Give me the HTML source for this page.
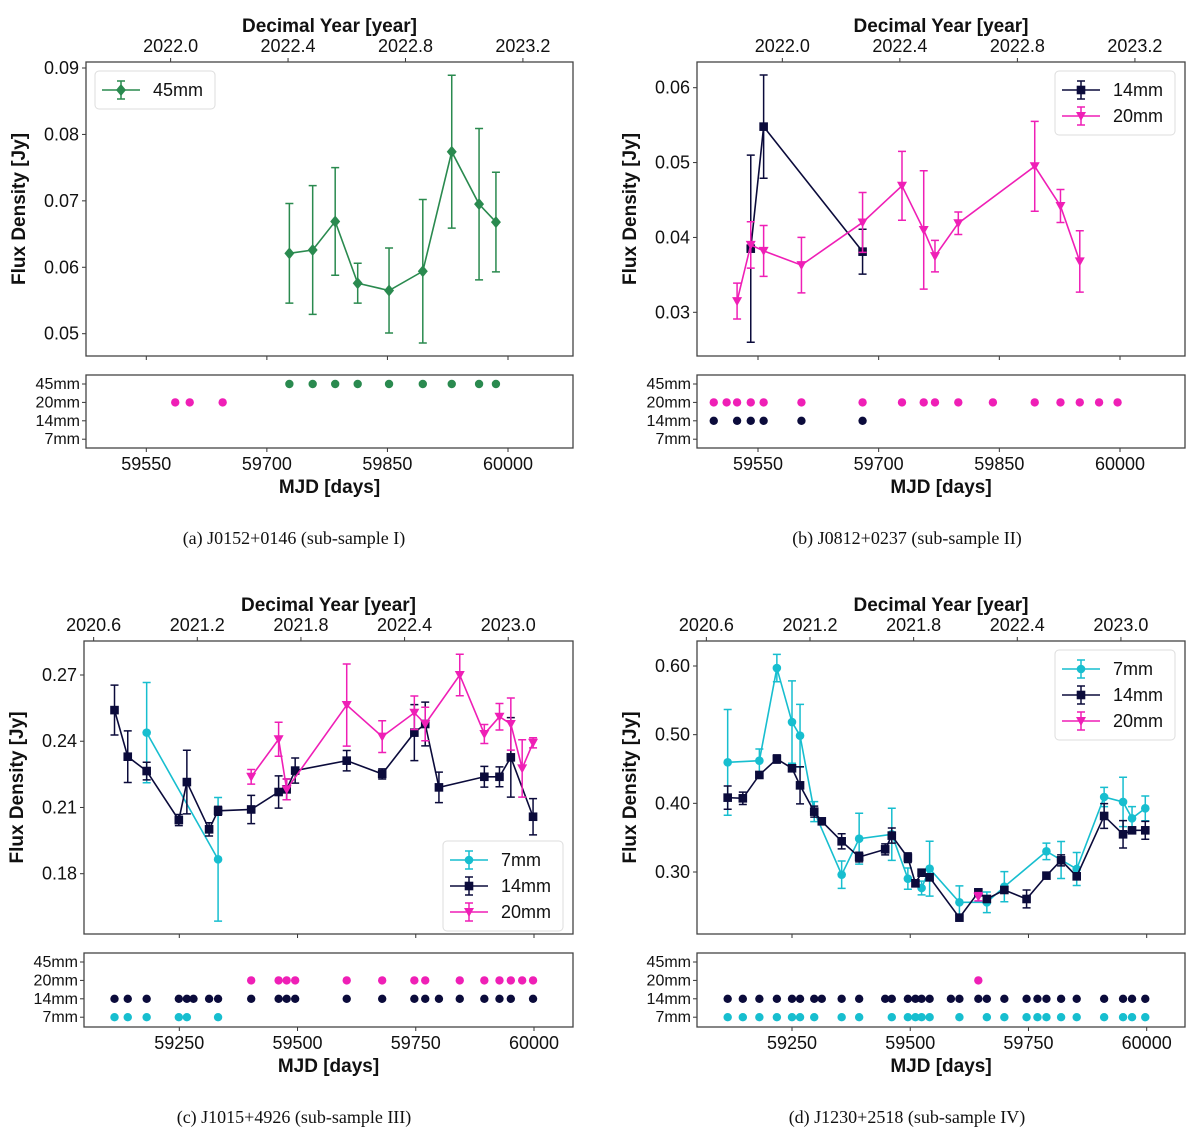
<!DOCTYPE html>
<html><head><meta charset="utf-8">
<style>
html,body{margin:0;padding:0;background:#fff;width:1200px;height:1133px;overflow:hidden}
svg{display:block;font-family:"Liberation Sans","DejaVu Sans",sans-serif}
.cap{font-family:"Liberation Serif",serif;font-size:18px;fill:#111}
</style></head>
<body>
<svg id="fig" width="1200" height="1133" viewBox="0 0 1200 1133" xmlns="http://www.w3.org/2000/svg">
<text class="cap" x="294" y="544" text-anchor="middle">(a) J0152+0146 (sub-sample I)</text>
<text class="cap" x="907" y="544" text-anchor="middle">(b) J0812+0237 (sub-sample II)</text>
<text class="cap" x="294" y="1123" text-anchor="middle">(c) J1015+4926 (sub-sample III)</text>
<text class="cap" x="907" y="1123" text-anchor="middle">(d) J1230+2518 (sub-sample IV)</text>
</svg>
<script>
// ---------- data ----------
// Panel A (J0152+0146)
const aMjd45 = [59728,59757,59785,59813,59852,59894,59930,59964,59985];
const aFlux45 = [0.0621,0.0626,0.0669,0.0576,0.0565,0.0594,0.0774,0.0695,0.0668];
const aErr45 = [0.0075,0.0097,0.0081,0.003,0.0064,0.0108,0.0115,0.0114,0.0075];
const aObs45 = [59728,59757,59785,59813,59852,59894,59930,59964,59985];
const aObs20 = [59586,59604,59645];
const aYTicks = [0.05,0.06,0.07,0.08,0.09];
// Panel B (J0812+0237)
const bMjd14 = [59541,59557,59680];
const bFlux14 = [0.0385,0.0548,0.0381];
const bErr14 = [0.0125,0.0069,0.003];
const bMjd20 = [59524,59541,59557,59604,59680,59729,59756,59770,59799,59894,59926,59950];
const bFlux20 = [0.0315,0.039,0.0382,0.0363,0.042,0.0469,0.041,0.0375,0.0419,0.0495,0.0442,0.0368];
const bErr20 = [0.0024,0.0031,0.0034,0.0037,0.004,0.0046,0.0079,0.0021,0.0015,0.006,0.0022,0.0041];
const bObs14 = [59495,59524,59541,59557,59604,59680];
const bObs20 = [59495,59511,59524,59541,59557,59604,59680,59729,59756,59770,59799,59842,59894,59926,59950,59974,59997];
const bYTicks = [0.03,0.04,0.05,0.06];
// Panel C (J1015+4926)
const cMjd7 = [59181,59332];
const cFlux7 = [0.2439,0.1865];
const cErr7 = [0.0227,0.028];
const cMjd14 = [59113,59141,59181,59249,59266,59313,59332,59402,59460,59477,59495,59604,59679,59747,59770,59799,59895,59927,59951,59998];
const cFlux14 = [0.2541,0.233,0.2265,0.2043,0.2215,0.2001,0.2085,0.2091,0.217,0.2182,0.2267,0.2312,0.2252,0.2439,0.2478,0.2191,0.2239,0.2239,0.2327,0.2058];
const cErr14 = [0.0113,0.0117,0.004,0.0025,0.0144,0.003,0.002,0.0064,0.0073,0.0047,0.0057,0.0046,0.0023,0.0127,0.0099,0.0069,0.0047,0.0045,0.018,0.0082];
const cMjd20 = [59402,59460,59477,59604,59679,59747,59770,59843,59895,59927,59951,59975,59998];
const cFlux20 = [0.2239,0.2409,0.2182,0.2564,0.2421,0.2529,0.2478,0.27,0.2433,0.2511,0.2478,0.2277,0.2393];
const cErr20 = [0.0033,0.0077,0.0047,0.0186,0.0072,0.0076,0.0076,0.0094,0.0043,0.006,0.0118,0.013,0.0023];
const cObs7 = [59113,59141,59181,59249,59266,59332];
const cObs14 = [59113,59141,59181,59249,59266,59280,59313,59332,59402,59460,59477,59495,59604,59679,59747,59770,59799,59843,59895,59927,59951,59998];
const cObs20 = [59402,59460,59477,59495,59604,59679,59747,59770,59843,59895,59927,59951,59975,59998];
const cYTicks = [0.18,0.21,0.24,0.27];
// Panel D (J1230+2518)
const dMjd7 = [59114,59181,59218,59250,59267,59297,59355,59392,59461,59495,59524,59541,59604,59662,59699,59788,59819,59852,59910,59950,59969,59997];
const dFlux7 = [0.4597,0.4621,0.597,0.5184,0.4985,0.3879,0.2961,0.3485,0.3549,0.2903,0.2767,0.3048,0.2558,0.2558,0.2786,0.3301,0.3175,0.3044,0.4092,0.402,0.3782,0.3927];
const dErr7 = [0.077,0.017,0.02,0.06,0.0456,0.0146,0.02,0.037,0.038,0.0155,0.01,0.04,0.024,0.015,0.022,0.012,0.027,0.024,0.014,0.036,0.017,0.018];
const dMjd14 = [59114,59146,59181,59218,59250,59267,59297,59313,59355,59392,59447,59461,59495,59511,59524,59541,59604,59644,59662,59699,59746,59788,59819,59852,59910,59950,59969,59997];
const dFlux14 = [0.4083,0.4073,0.4413,0.4646,0.451,0.4262,0.3879,0.3738,0.3447,0.3218,0.333,0.353,0.3209,0.2835,0.299,0.2922,0.2335,0.2704,0.2607,0.2738,0.2607,0.2947,0.317,0.2937,0.3816,0.3549,0.3607,0.3607];
const dErr14 = [0.017,0.009,0.004,0.006,0.005,0.027,0.008,0.004,0.011,0.007,0.008,0.011,0.007,0.005,0.005,0.005,0.004,0.004,0.004,0.004,0.013,0.004,0.008,0.005,0.018,0.02,0.004,0.013];
const dMjd20 = [59644];
const dFlux20 = [0.264];
const dErr20 = [0.006];
const dObs7 = [59114,59146,59181,59218,59250,59267,59297,59355,59392,59461,59495,59511,59524,59541,59604,59662,59699,59746,59769,59788,59819,59852,59910,59950,59969,59997];
const dObs14 = [59114,59146,59181,59218,59250,59267,59297,59313,59355,59392,59447,59461,59495,59511,59524,59541,59586,59604,59644,59662,59699,59746,59769,59788,59819,59852,59910,59950,59969,59997];
const dObs20 = [59644];
const dYTicks = [0.30,0.40,0.50,0.60];
const bandLabels = ["7mm","14mm","20mm","45mm"];

// ---------- drawing ----------
const NS="http://www.w3.org/2000/svg";
const svg=document.getElementById('fig');
const COL={"7mm":"#17becf","14mm":"#0b0b3b","20mm":"#ef1fb6","45mm":"#2a8a4f"};
function el(tag,attrs,parent){const e=document.createElementNS(NS,tag);for(const k in attrs)e.setAttribute(k,attrs[k]);(parent||svg).appendChild(e);return e;}
function txt(s,attrs,parent){const t=el('text',attrs,parent);t.textContent=s;return t;}

function marker(g,shape,x,y,c){
  let m;
  if(shape==='o'){m=el('circle',{cx:x,cy:y,r:4.3,fill:c},g);}
  else if(shape==='s'){m=el('rect',{x:x-4.3,y:y-4.3,width:8.6,height:8.6,fill:c},g);}
  else if(shape==='v'){m=el('path',{d:`M${x-5},${y-4} L${x+5},${y-4} L${x},${y+5} Z`,fill:c},g);}
  else {m=el('path',{d:`M${x},${y-6} L${x+5},${y} L${x},${y+6} L${x-5},${y} Z`,fill:c},g);}
  return m;
}

function panel(P){
  const X=m=>P.m0px+(m-P.m0)*(P.m1px-P.m0px)/(P.m1-P.m0);
  const Y=v=>P.v0px+(v-P.v0)*(P.v1px-P.v0px)/(P.v1-P.v0);
  const g=el('g',{});
  
  
  const yt=txt('Flux Density [Jy]',{x:0,y:0,'font-size':19,'font-weight':'bold',fill:'#111','text-anchor':'middle',transform:`translate(${P.bx0-61},${(P.by0+P.by1)/2}) rotate(-90)`},g);
  
  const tt=txt('Decimal Year [year]',{x:(P.bx0+P.bx1)/2,y:P.by0-30,'font-size':19,'font-weight':'bold',fill:'#111','text-anchor':'middle'},g);
  
  const xt=txt('MJD [days]',{x:(P.bx0+P.bx1)/2,y:P.sy1+45,'font-size':19,'font-weight':'bold',fill:'#111','text-anchor':'middle'},g);
  
  P.yticks.forEach(v=>{const y=Y(v);
    el('line',{x1:P.bx0-4,x2:P.bx0,y1:y,y2:y,stroke:'#333','stroke-width':1},g);
    const t=txt(v.toFixed(2),{x:P.bx0-7,y:y+6,'font-size':18,fill:'#111','text-anchor':'end'},g);
    });
  P.years.forEach(yr=>{const x=X(59215+(yr-2021)*365.25);
    el('line',{x1:x,x2:x,y1:P.by0-4,y2:P.by0,stroke:'#333','stroke-width':1},g);
    const t=txt(yr.toFixed(1),{x:x,y:P.by0-10,'font-size':18,fill:'#111','text-anchor':'middle'},g);
    });
  P.xticks.forEach(m=>{const x=X(m);
    el('line',{x1:x,x2:x,y1:P.by1,y2:P.by1+4,stroke:'#333','stroke-width':1},g);
    el('line',{x1:x,x2:x,y1:P.sy1,y2:P.sy1+4,stroke:'#333','stroke-width':1},g);
    const t=txt(String(m),{x:x,y:P.sy1+22,'font-size':18,fill:'#111','text-anchor':'middle'},g);
    });
  const clip='clip-'+P.id;
  const cp=el('clipPath',{id:clip},g);el('rect',{x:P.bx0,y:P.by0,width:P.bx1-P.bx0,height:P.by1-P.by0},cp);
  const sg=el('g',{'clip-path':`url(#${clip})`},g);
  P.series.forEach(s=>{
    const c=COL[s.band];
    const pts=s.mjd.map((m,i)=>X(m)+','+Y(s.flux[i])).join(' ');
    const ln=el('polyline',{points:pts,fill:'none',stroke:c,'stroke-width':1.6},sg);
    
    s.mjd.forEach((m,i)=>{const x=X(m),y=Y(s.flux[i]),yT=Y(s.flux[i]+s.err[i]),yB=Y(s.flux[i]-s.err[i]);
      const eb=el('path',{d:`M${x},${yT}V${yB}M${x-4},${yT}H${x+4}M${x-4},${yB}H${x+4}`,stroke:c,'stroke-width':1.5,fill:'none'},sg);
      
      const mk=marker(sg,s.shape,x,y,c);
      });
  });
  el('rect',{x:P.bx0,y:P.by0,width:P.bx1-P.bx0,height:P.by1-P.by0,fill:'none',stroke:'#444','stroke-width':1.3},g);
  const L=P.legend;
  const lg=el('g',{},g);
  
  el('rect',{x:L.x,y:L.y,width:120,height:12+L.items.length*26,rx:4,fill:'#fff',stroke:'#ddd','stroke-width':1},lg);
  L.items.forEach((it,i)=>{const cy=L.y+19+i*26,c=COL[it.band];
    const e=el('g',{},lg);
    
    el('line',{x1:L.x+7,x2:L.x+45,y1:cy,y2:cy,stroke:c,'stroke-width':1.6},e);
    el('path',{d:`M${L.x+26},${cy-9}V${cy+9}M${L.x+22},${cy-9}H${L.x+30}M${L.x+22},${cy+9}H${L.x+30}`,stroke:c,'stroke-width':1.5},e);
    marker(e,it.shape,L.x+26,cy,c);
    txt(it.band,{x:L.x+58,y:cy+6,'font-size':18,fill:'#111'},e);});
  const SY=k=>P.sy0+9+(3-k)*18.4;
  bandLabels.forEach((b,k)=>{const y=SY(k);
    el('line',{x1:P.bx0-4,x2:P.bx0,y1:y,y2:y,stroke:'#333','stroke-width':1},g);
    const t=txt(b,{x:P.bx0-6,y:y+5,'font-size':16,fill:'#111','text-anchor':'end'},g);
    });
  P.obs.forEach(o=>{const k=bandLabels.indexOf(o.band);
    o.mjd.forEach(m=>{const d=el('circle',{cx:X(m),cy:SY(k),r:4.2,fill:COL[o.band]},g);
      });});
  el('rect',{x:P.bx0,y:P.sy0,width:P.bx1-P.bx0,height:P.sy1-P.sy0,fill:'none',stroke:'#444','stroke-width':1.3},g);
}

panel({id:'a',bx0:86,bx1:573,by0:62,by1:356,sy0:375,sy1:448,
  m0:59550,m0px:146.3,m1:60000,m1px:508,v0:0.09,v0px:68,v1:0.05,v1px:333.7,
  yticks:aYTicks,years:[2022.0,2022.4,2022.8,2023.2],xticks:[59550,59700,59850,60000],
  series:[{band:'45mm',shape:'d',mjd:aMjd45,flux:aFlux45,err:aErr45}],
  legend:{x:95,y:71,items:[{band:'45mm',shape:'d'}]},
  obs:[{band:'45mm',mjd:aObs45},{band:'20mm',mjd:aObs20}]});
panel({id:'b',bx0:697,bx1:1185,by0:62,by1:356,sy0:375,sy1:448,
  m0:59550,m0px:758,m1:60000,m1px:1120,v0:0.06,v0px:87.7,v1:0.03,v1px:312.3,
  yticks:bYTicks,years:[2022.0,2022.4,2022.8,2023.2],xticks:[59550,59700,59850,60000],
  series:[{band:'14mm',shape:'s',mjd:bMjd14,flux:bFlux14,err:bErr14},{band:'20mm',shape:'v',mjd:bMjd20,flux:bFlux20,err:bErr20}],
  legend:{x:1055,y:71,items:[{band:'14mm',shape:'s'},{band:'20mm',shape:'v'}]},
  obs:[{band:'14mm',mjd:bObs14},{band:'20mm',mjd:bObs20}]});
panel({id:'c',bx0:84,bx1:573,by0:641,by1:934,sy0:953,sy1:1027,
  m0:59250,m0px:179.3,m1:60000,m1px:534,v0:0.27,v0px:675,v1:0.18,v1px:873.7,
  yticks:cYTicks,years:[2020.6,2021.2,2021.8,2022.4,2023.0],xticks:[59250,59500,59750,60000],
  series:[{band:'7mm',shape:'o',mjd:cMjd7,flux:cFlux7,err:cErr7},{band:'14mm',shape:'s',mjd:cMjd14,flux:cFlux14,err:cErr14},{band:'20mm',shape:'v',mjd:cMjd20,flux:cFlux20,err:cErr20}],
  legend:{x:443,y:841,items:[{band:'7mm',shape:'o'},{band:'14mm',shape:'s'},{band:'20mm',shape:'v'}]},
  obs:[{band:'7mm',mjd:cObs7},{band:'14mm',mjd:cObs14},{band:'20mm',mjd:cObs20}]});
panel({id:'d',bx0:697,bx1:1185,by0:641,by1:934,sy0:953,sy1:1027,
  m0:59250,m0px:792,m1:60000,m1px:1146.7,v0:0.6,v0px:666,v1:0.3,v1px:872,
  yticks:dYTicks,years:[2020.6,2021.2,2021.8,2022.4,2023.0],xticks:[59250,59500,59750,60000],
  series:[{band:'7mm',shape:'o',mjd:dMjd7,flux:dFlux7,err:dErr7},{band:'14mm',shape:'s',mjd:dMjd14,flux:dFlux14,err:dErr14},{band:'20mm',shape:'v',mjd:dMjd20,flux:dFlux20,err:dErr20}],
  legend:{x:1055,y:650,items:[{band:'7mm',shape:'o'},{band:'14mm',shape:'s'},{band:'20mm',shape:'v'}]},
  obs:[{band:'7mm',mjd:dObs7},{band:'14mm',mjd:dObs14},{band:'20mm',mjd:dObs20}]});
</script>
</body></html>
